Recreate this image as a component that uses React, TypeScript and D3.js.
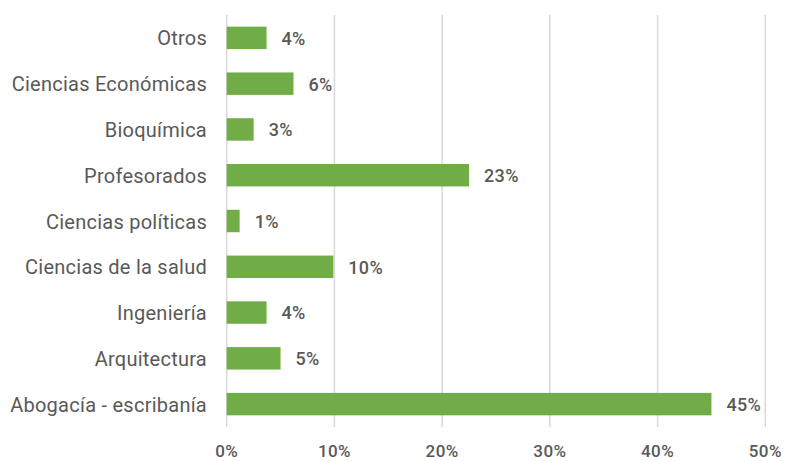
import React from "react";
import * as d3 from "d3";

const categories = [
  "Otros",
  "Ciencias Económicas",
  "Bioquímica",
  "Profesorados",
  "Ciencias políticas",
  "Ciencias de la salud",
  "Ingeniería",
  "Arquitectura",
  "Abogacía - escribanía",
];
const values = [3.7, 6.2, 2.5, 22.5, 1.2, 9.9, 3.7, 5.0, 45.0];
const ticks = [0, 10, 20, 30, 40, 50];

export default function App() {
  const W = 785, H = 461;
  const left = 226.7, right = 765.3, top = 15, bottom = 427;
  const x = d3.scaleLinear().domain([0, 50]).range([left, right]);
  const y = d3.scaleBand<string>().domain(categories).range([top, bottom]).paddingInner(0.51).paddingOuter(0.255);
  const font = "Roboto, 'DejaVu Sans', sans-serif";
  const grey = "#595959";
  return (
    <svg width={W} height={H} style={{ position: "absolute", left: 0, top: 0, background: "#fff" }}>
      {ticks.map((t) => (
        <line key={t} x1={x(t)} x2={x(t)} y1={top} y2={bottom} stroke="#d9d9d9" strokeWidth={1.5} />
      ))}
      {categories.map((c, i) => {
        const yy = y(c)!;
        const bw = y.bandwidth();
        return (
          <g key={c}>
            <rect x={x(0)} y={yy} width={x(values[i]) - x(0)} height={bw} fill="#70AD47" />
            <text x={207} y={yy + bw / 2} dy="0.38em" textAnchor="end" fontFamily={font} fontSize={20} letterSpacing={0.25} fill={grey}>
              {c}
            </text>
            <text x={x(values[i]) + 15} y={yy + bw / 2} dy="0.38em" fontFamily={font} fontSize={18} fontWeight={500} letterSpacing={0.3} fill={grey}>
              {Math.round(values[i])}%
            </text>
          </g>
        );
      })}
      {ticks.map((t) => (
        <text key={t} x={x(t)} y={457} textAnchor="middle" fontFamily={font} fontSize={17} fontWeight={500} letterSpacing={0.4} fill={grey}>
          {t}%
        </text>
      ))}
    </svg>
  );
}
